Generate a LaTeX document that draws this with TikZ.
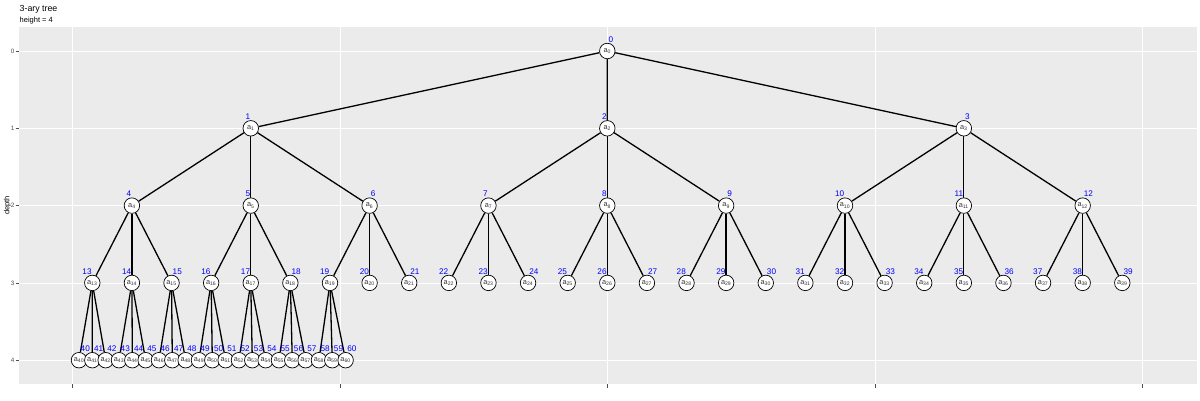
\documentclass[tikz,border=0pt]{standalone}
\usepackage{fontspec}
\setmainfont{Liberation Sans}
\pgfdeclarelayer{bg}
\pgfdeclarelayer{edges}
\pgfsetlayers{bg,edges,main}
\definecolor{panelgray}{HTML}{EBEBEB}
\definecolor{axisgray}{HTML}{4D4D4D}
\begin{document}
\begin{tikzpicture}[x=1pt,y=-1pt,
  tnode/.style={circle,draw=black,fill=white,line width=0.7pt,minimum size=15.5pt,inner sep=0pt,
    font=\fontsize{7.3}{7.3}\selectfont,text=black!80},
  numlbl/.style={text=blue,font=\fontsize{8.2}{8.2}\selectfont,inner sep=0pt},
  treeedge/.style={line width=1.3pt,black},
  gridline/.style={white,line width=0.6pt},
  axtick/.style={axisgray,line width=0.5pt},
  axislbl/.style={text=axisgray,font=\fontsize{6.3}{6.3}\selectfont,inner sep=0pt},
]
\useasboundingbox (0,0) rectangle (1200,400);
% panel
\begin{pgfonlayer}{bg}
  \fill[panelgray] (19.3,26.7) rectangle (1196.5,384);
  \foreach \d in {0,...,4}{
    \draw[gridline] (19.3,{51+77.3*\d}) -- (1196.5,{51+77.3*\d});
  }
  \foreach \xx in {72.3,339.8,607.3,874.8,1142.3}{
    \draw[gridline] (\xx,26.7) -- (\xx,384);
  }
\end{pgfonlayer}
% axes
\foreach \d in {0,...,4}{
  \draw[axtick] (15.6,{51+77.3*\d}) -- (19.3,{51+77.3*\d});
  \node[axislbl,anchor=east] (yl\d) at (14.6,{51+77.3*\d}) {\d};
}
\foreach \xx in {72.3,339.8,607.3,874.8,1142.3}{
  \draw[axtick] (\xx,384) -- (\xx,387.6);
}
\node[rotate=90,font=\fontsize{7.5}{7.5}\selectfont,inner sep=0pt] (ylab) at (7.5,205.5) {depth};
% titles
\node[anchor=base west,font=\fontsize{8.8}{8.8}\selectfont,inner sep=0pt] (title) at (19.5,11.7) {3-ary tree};
\node[anchor=base west,font=\fontsize{7.5}{7.5}\selectfont,inner sep=0pt] (subtitle) at (19.5,22.3) {height = 4};
% nodes
\node[tnode] (a0) at (607.3,51) {a\textsubscript{0}};
\foreach \m in {0,...,2}{
  \pgfmathsetmacro\xx{92.3+39.615*(9*\m+4)}
  \pgfmathtruncatemacro\n{1+\m}
  \node[tnode] (a\n) at (\xx,128.3) {a\textsubscript{\n}};
}
\foreach \i in {0,...,8}{
  \pgfmathsetmacro\xx{92.3+39.615*(3*\i+1)}
  \pgfmathtruncatemacro\n{4+\i}
  \node[tnode] (a\n) at (\xx,205.6) {a\textsubscript{\n}};
}
\foreach \k in {0,...,26}{
  \pgfmathsetmacro\xx{92.3+39.615*\k}
  \pgfmathtruncatemacro\n{13+\k}
  \node[tnode] (a\n) at (\xx,282.9) {a\textsubscript{\n}};
}
\foreach \j in {0,...,20}{
  \pgfmathsetmacro\xx{79+13.33*\j}
  \pgfmathtruncatemacro\n{40+\j}
  \node[tnode] (a\n) at (\xx,360.2) {a\textsubscript{\n}};
}
% edges
\begin{pgfonlayer}{edges}
  \foreach \p in {0,...,19}{
    \foreach \c in {1,2,3}{
      \pgfmathtruncatemacro\ch{3*\p+\c}
      \draw[treeedge] (a\p) -- (a\ch);
    }
  }
\end{pgfonlayer}
% number labels
\node[numlbl,anchor=west] (l0) at ([shift={(1,-11.5)}]a0.center) {0};
\foreach \n in {1,...,39}{
  \pgfmathtruncatemacro\c{mod(\n-1,3)}
  \ifnum\c=2
    \node[numlbl,anchor=west] (l\n) at ([shift={(1,-11.5)}]a\n.center) {\n};
  \else
    \node[numlbl,anchor=east] (l\n) at ([shift={(-0.5,-11.5)}]a\n.center) {\n};
  \fi
}
\foreach \n in {40,...,60}{
  \node[numlbl,anchor=west] (l\n) at ([shift={(1.5,-11.5)}]a\n.center) {\n};
}
\end{tikzpicture}
\end{document}
